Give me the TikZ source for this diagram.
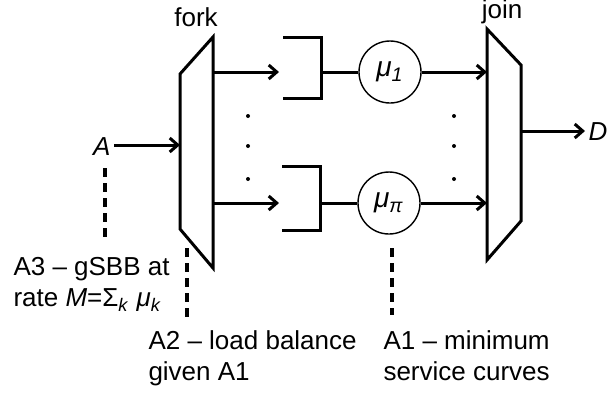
\documentclass[tikz,border=0pt]{standalone}
\usepackage{fontspec}
\setmainfont{Liberation Sans}
\usetikzlibrary{arrows.meta}

\begin{document}
\begin{tikzpicture}[x=0.5pt,y=-0.5pt,line width=1.5pt,
    flow/.style={-{Straight Barb[length=4pt,width=7pt,line width=1.5pt]}},
    server/.style={circle,draw,line width=0.7pt,minimum size=31pt,inner sep=0pt,font=\fontsize{14}{16}\selectfont},
    hint/.style={line width=1.8pt,dash pattern=on 4.5pt off 3pt},
    txt/.style={inner sep=0pt,font=\fontsize{13}{15.5}\selectfont},
    note/.style={txt,align=left,anchor=north west}]
    \useasboundingbox (0,0) rectangle (609,393);

    % fork and join blocks
    \draw (180,74) -- (213,37) -- (213,268) -- (180,229) -- cycle;
    \draw (487,29) -- (521,65) -- (521,221) -- (487,260) -- cycle;
    \node[txt,anchor=base] (fork) at (196,26) {fork};
    \node[txt,anchor=base] (join) at (502,18) {join};

    \coordinate (forkin) at (180,145);
    \coordinate (forkout1) at (213,72);
    \coordinate (forkout2) at (213,203);
    \coordinate (joinin1) at (487,72);
    \coordinate (joinin2) at (487,203);
    \coordinate (joinout) at (521,131);

    % queues
    \coordinate (q1) at (321,72);
    \coordinate (q2) at (320,203);
    \coordinate (q1in) at (279,72);
    \coordinate (q2in) at (279,203);
    \draw (283,37) -- (321,37) -- (321,98) -- (283,98);
    \draw (282,166) -- (320,166) -- (320,230) -- (282,230);

    \node[server] (mu1) at (390,72) {\textit{μ}\textsubscript{\textit{1}}};
    \node[server] (mupi) at (389,203) {\textit{μ}\textsubscript{\textit{π}}};

    \node[txt,anchor=base east,inner sep=1pt] (A) at (114,155) {\textit{A}};
    \node[txt,anchor=base west,inner sep=1pt] (D) at (585,140) {\textit{D}};

    \draw[flow] (A.east |- forkin) -- (forkin);
    \draw[flow] (forkout1) -- (q1in);
    \draw[flow] (forkout2) -- (q2in);
    \draw (q1) -- (mu1);
    \draw (q2) -- (mupi);
    \draw[flow] (mu1) -- (joinin1);
    \draw[flow] (mupi) -- (joinin2);
    \draw[flow] (joinout) -- (D.west |- joinout);

    \foreach \y in {116,146,179} {
        \fill (248,\y) circle (1pt);
        \fill (454,\y) circle (1pt);
    }

    % assumptions
    \node[note] (a3) at (12,256) {A3 – gSBB at\\rate \textit{M}=Σ\textsubscript{\textit{k}} \textit{μ}\textsubscript{\textit{k}}};
    \node[note] (a2) at (147,329) {A2 – load balance\\given A1};
    \node[note] (a1) at (382,329) {A1 – minimum\\service curves};

    \coordinate (h3a) at (105,168);
    \coordinate (h3b) at (105,242);
    \coordinate (h2a) at (187,248);
    \coordinate (h2b) at (187,320);
    \coordinate (h1a) at (392,248);
    \coordinate (h1b) at (392,315);
    \draw[hint] (h3a) -- (h3b);
    \draw[hint] (h2a) -- (h2b);
    \draw[hint] (h1a) -- (h1b);
\end{tikzpicture}
\end{document}
